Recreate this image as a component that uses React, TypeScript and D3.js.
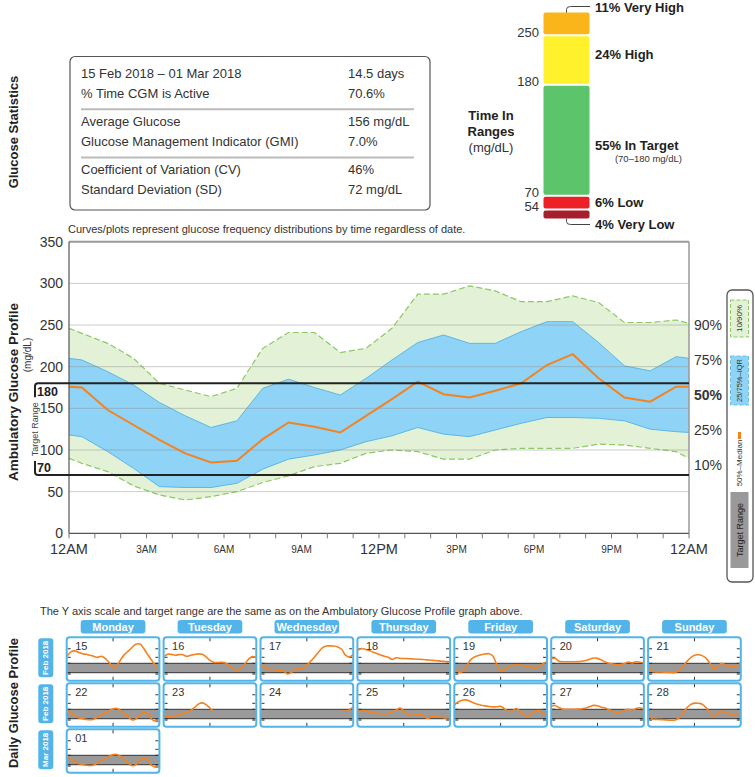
import React from 'react';
import * as d3 from 'd3';

const FONT = '"Liberation Sans", Arial, Helvetica, sans-serif';

// ---------- Glucose statistics ----------
const STAT_LABELS = [
  '15 Feb 2018 – 01 Mar 2018',
  '% Time CGM is Active',
  'Average Glucose',
  'Glucose Management Indicator (GMI)',
  'Coefficient of Variation (CV)',
  'Standard Deviation (SD)',
];
const STAT_VALUES = ['14.5 days', '70.6%', '156 mg/dL', '7.0%', '46%', '72 mg/dL'];

// ---------- Time in ranges ----------
const TIR_NAMES = ['Very High', 'High', 'In Target', 'Low', 'Very Low'];
const TIR_PCT = [11, 24, 55, 6, 4];
const TIR_COLORS = ['#f9b519', '#fff22d', '#5cc46b', '#ee2027', '#a51f2d'];
const TIR_BOUNDS = ['250', '180', '70', '54'];

// ---------- AGP percentiles ----------
const AGP_HOURS = [0, 0.5, 1.5, 2.5, 3.5, 4.5, 5.5, 6.5, 7.5, 8.5, 9.5, 10.5, 11.5, 12.5, 13.5, 14.5, 15.5, 16.5, 17.5, 18.5, 19.5, 20.5, 21.5, 22.5, 23.5, 24];
const P90 = [246, 240, 228, 210, 180, 172, 164, 174, 222, 241, 241, 217, 222, 246, 287, 287, 297, 291, 278, 278, 285, 277, 253, 253, 256, 252];
const P75 = [210, 208, 194, 178, 157, 141, 127, 135, 174, 185, 175, 166, 186, 208, 229, 238, 228, 228, 242, 254, 254, 229, 201, 195, 212, 210];
const P50 = [176, 175, 148, 130, 112, 96, 85, 87, 113, 133, 128, 121, 141, 161, 182, 167, 163, 171, 180, 202, 215, 186, 163, 158, 176, 176];
const P25 = [118, 116, 98, 78, 56, 55, 55, 60, 77, 89, 94, 100, 110, 117, 127, 119, 116, 124, 132, 139, 139, 138, 135, 125, 122, 121];
const P10 = [90, 84, 74, 57, 46, 40, 44, 50, 61, 69, 80, 84, 96, 100, 98, 89, 89, 100, 102, 102, 102, 107, 106, 102, 98, 90];
const Y_TICKS = [0, 50, 100, 150, 200, 250, 300, 350];
const GRID_VALUES = [50, 100, 150, 200, 250, 300];
const TARGET = [70, 180];
const TARGET_LABELS = ['180', '70'];
const X_LABELS = ['12AM', '3AM', '6AM', '9AM', '12PM', '3PM', '6PM', '9PM', '12AM'];
const PCT_LABELS = ['90%', '75%', '50%', '25%', '10%'];

// ---------- Daily profiles (hourly values, 0..24h) ----------
const WEEKDAYS = ['Monday', 'Tuesday', 'Wednesday', 'Thursday', 'Friday', 'Saturday', 'Sunday'];
const WEEK_MONTHS = ['Feb 2018', 'Feb 2018', 'Mar 2018'];
const N = null;
const D15 = [255, 310, 325, 310, 292, 285, 275, 262, 250, 262, 235, 190, 125, 155, 225, 285, 325, 370, 405, 405, 350, 280, 215, 150, 100];
const D16 = [250, 285, 285, 275, 282, 280, 262, 275, 283, 290, 285, 255, 215, 192, 190, 191, 185, 155, 115, 100, 125, 170, 230, 258, 250];
const D17 = [185, 130, 112, 107, 104, 100, 90, 55, 75, 105, 122, 125, 160, 205, 255, 310, 360, 382, 384, 382, 372, 345, 275, 255, 285];
const D18 = [330, 352, 345, 330, 312, 295, 278, 262, 250, 226, 244, 240, 237, 235, 232, 230, 227, 224, 220, 216, 212, 208, 204, 200, 198];
const D19 = [130, 80, 80, 130, 210, 250, 268, 280, 288, 292, 265, 165, 95, 105, 140, 158, 163, 160, 152, 143, 135, 125, 145, 175, 198];
const D20 = [235, 238, 205, 198, 198, 198, 198, 200, 204, 212, 228, 242, 238, 218, 195, 180, 172, 163, 166, 178, 195, 185, 198, 192, 185];
const D21 = [185, 88, 80, 78, 77, 75, 72, 72, 100, 140, 200, 245, 275, 280, 270, 240, 180, 115, 140, 180, 160, 140, 145, 155, 180];
const D22 = [170, 145, 110, 85, 70, 62, 58, 65, 90, 115, 140, 165, 185, 190, 165, 130, 90, 55, 70, 120, 145, 130, 65, 40, 35];
const D23 = [98, 95, 98, 105, 115, 128, 145, 165, 200, 240, 255, 235, 195, 150, N, N, N, N, N, N, N, N, N, N, N];
const D24 = [N, N, N, N, N, N, N, N, N, N, N, N, N, N, N, N, N, N, N, N, N, 160, 158, 172, 210];
const D25 = [165, 163, 160, 150, 140, 135, 128, 125, 130, 145, 170, 195, 160, 120, 108, 115, 125, 110, 75, 88, 100, 105, 85, 80, 82];
const D26 = [230, 265, 285, 290, 275, 255, 240, 228, 220, 212, 208, 210, 215, 185, 155, 160, 190, 160, 115, 100, 130, 160, 165, 130, 108];
const D27 = [218, 225, 200, 182, 180, 180, 180, 182, 187, 195, 212, 226, 222, 205, 195, 175, 158, 145, 150, 170, 180, 172, 190, 198, 182];
const D28 = [185, 68, 62, 60, 58, 55, 52, 55, 80, 130, 195, 235, 252, 250, 240, 200, 143, 100, 130, 162, 145, 128, 120, 128, 140];
const D01 = [168, 140, 108, 85, 72, 64, 60, 68, 92, 118, 142, 168, 188, 190, 168, 130, 88, 58, 75, 125, 150, 128, 62, 42, 40];
const DAY_LABELS = ['15', '16', '17', '18', '19', '20', '21', '22', '23', '24', '25', '26', '27', '28', '01'];
const DAY_SERIES = [D15, D16, D17, D18, D19, D20, D21, D22, D23, D24, D25, D26, D27, D28, D01];
const PANEL_TICKS = [54, 70, 180, 250, 350];

const TXT = '#333';

function rotatedText(x: number, y: number, text: string, props: any = {}) {
  return (
    <text
      transform={`translate(${x},${y}) rotate(-90)`}
      textAnchor="middle"
      dominantBaseline="central"
      {...props}
    >
      {text}
    </text>
  );
}

function Stats() {
  const rowY = (i: number) => 73.3 + Math.floor(i / 2) * 48.3 + (i % 2) * 20;
  return (
    <g>
      {rotatedText(13, 132, 'Glucose Statistics', { fontWeight: 'bold', fontSize: 13, fill: '#222' })}
      <rect x={70} y={56.5} width={360} height={153.5} rx={5} fill="#fff" stroke="#555" strokeWidth={1.2} />
      {STAT_LABELS.map((s, i) => (
        <g key={i}>
          <text x={81} y={rowY(i)} dominantBaseline="central" fontSize={13} fill={TXT}>{s}</text>
          <text x={348} y={rowY(i)} dominantBaseline="central" fontSize={13} fill={TXT}>{STAT_VALUES[i]}</text>
        </g>
      ))}
      {[0, 1].map((g) => (
        <line key={g} x1={81} x2={414} y1={rowY(g * 2) + 36} y2={rowY(g * 2) + 36} stroke="#bbb" strokeWidth={2} />
      ))}
    </g>
  );
}

function TimeInRanges() {
  const h = d3.scaleLinear().domain([0, 100]).range([0, 198]);
  const gap = 2;
  const barX = 543.5;
  const barW = 46;
  let cur = 12.5;
  const segs = TIR_PCT.map((p, i) => {
    const y0 = cur;
    const hh = h(p);
    cur += hh + gap;
    return { y0, y1: y0 + hh, p, i };
  });
  const labelX = 595;
  const midX = barX + 23;
  const vh = segs[0];
  const vl = segs[4];
  return (
    <g>
      <text x={491} y={115} textAnchor="middle" dominantBaseline="central" fontWeight="bold" fontSize={13} fill="#222">Time In</text>
      <text x={491} y={131} textAnchor="middle" dominantBaseline="central" fontWeight="bold" fontSize={13} fill="#222">Ranges</text>
      <text x={491} y={147} textAnchor="middle" dominantBaseline="central" fontSize={13} fill={TXT}>(mg/dL)</text>
      {segs.map((s) => (
        <rect key={s.i} x={barX} y={s.y0} width={barW} height={s.y1 - s.y0} rx={2} fill={TIR_COLORS[s.i]} />
      ))}
      {TIR_BOUNDS.map((b, i) => (
        <text key={b} x={539} y={segs[i].y1 - 2} textAnchor="end" dominantBaseline="central" fontSize={13} fill={TXT}>{b}</text>
      ))}
      <path d={`M${midX},${vh.y0} V${vh.y0 - 3} Q${midX},${vh.y0 - 6} ${midX + 4},${vh.y0 - 6} H${labelX - 5}`} fill="none" stroke="#444" strokeWidth={1} />
      <path d={`M${midX},${vl.y1} V${vl.y1 + 3} Q${midX},${vl.y1 + 6} ${midX + 4},${vl.y1 + 6} H${labelX - 5}`} fill="none" stroke="#444" strokeWidth={1} />
      <text x={labelX} y={7} dominantBaseline="central" fontWeight="bold" fontSize={13} fill="#222">{`${TIR_PCT[0]}% ${TIR_NAMES[0]}`}</text>
      <text x={labelX} y={(segs[1].y0 + segs[1].y1) / 2 - 6} dominantBaseline="central" fontWeight="bold" fontSize={13} fill="#222">{`${TIR_PCT[1]}% ${TIR_NAMES[1]}`}</text>
      <text x={labelX} y={(segs[2].y0 + segs[2].y1) / 2 + 5} dominantBaseline="central" fontWeight="bold" fontSize={13} fill="#222">{`${TIR_PCT[2]}% ${TIR_NAMES[2]}`}</text>
      <text x={682} y={(segs[2].y0 + segs[2].y1) / 2 + 18} textAnchor="end" dominantBaseline="central" fontSize={9.5} fill={TXT}>(70–180 mg/dL)</text>
      <text x={labelX} y={(segs[3].y0 + segs[3].y1) / 2} dominantBaseline="central" fontWeight="bold" fontSize={13} fill="#222">{`${TIR_PCT[3]}% ${TIR_NAMES[3]}`}</text>
      <text x={labelX} y={224} dominantBaseline="central" fontWeight="bold" fontSize={13} fill="#222">{`${TIR_PCT[4]}% ${TIR_NAMES[4]}`}</text>
    </g>
  );
}

function AGP() {
  const x = d3.scaleLinear().domain([0, 24]).range([69, 689]);
  const y = d3.scaleLinear().domain([0, 350]).range([533.3, 241.7]);
  const idx = AGP_HOURS.map((_, i) => i);
  const band = (lo: number[], hi: number[]) =>
    d3.area<number>().x((i) => x(AGP_HOURS[i])).y0((i) => y(lo[i])).y1((i) => y(hi[i]))(idx) || '';
  const line = (v: number[]) => d3.line<number>().x((i) => x(AGP_HOURS[i])).y((i) => y(v[i]))(idx) || '';
  const hourTicks = d3.range(0, 25);
  const yT = y(TARGET[1]);
  const yB = y(TARGET[0]);
  return (
    <g>
      {rotatedText(13, 392, 'Ambulatory Glucose Profile', { fontWeight: 'bold', fontSize: 13.5, fill: '#222' })}
      {rotatedText(27, 355, '(mg/dL)', { fontSize: 10, fill: TXT })}
      <text x={68} y={229} dominantBaseline="central" fontSize={11} fill={TXT}>
        Curves/plots represent glucose frequency distributions by time regardless of date.
      </text>
      <path d={band(P10, P90)} fill="#e3f2d6" />
      <path d={band(P25, P75)} fill="#8fd3f6" />
      <path d={line(P75)} fill="none" stroke="#5db7e4" strokeWidth={1} />
      <path d={line(P25)} fill="none" stroke="#5db7e4" strokeWidth={1} />
      <path d={line(P90)} fill="none" stroke="#8cc865" strokeWidth={1.2} strokeDasharray="6,3" />
      <path d={line(P10)} fill="none" stroke="#8cc865" strokeWidth={1.2} strokeDasharray="6,3" />
      {GRID_VALUES.map((v) => (
        <line key={v} x1={x(0)} x2={x(24)} y1={y(v)} y2={y(v)} stroke="rgba(140,140,140,0.45)" strokeWidth={1} />
      ))}
      <path d={line(P50)} fill="none" stroke="#f5821f" strokeWidth={2} />
      <line x1={x(0)} x2={x(24)} y1={y(350)} y2={y(350)} stroke="#999" strokeWidth={2} />
      <line x1={x(24)} x2={x(24)} y1={y(350)} y2={y(0)} stroke="#999" strokeWidth={1.5} />
      <line x1={x(0)} x2={x(0)} y1={y(350)} y2={y(0)} stroke="#555" strokeWidth={1.2} />
      <line x1={x(0)} x2={x(24)} y1={y(0)} y2={y(0)} stroke="#555" strokeWidth={1.2} />
      {hourTicks.map((h) => (
        <line key={h} x1={x(h)} x2={x(h)} y1={y(0)} y2={y(0) + 5} stroke="#777" strokeWidth={1} />
      ))}
      {Y_TICKS.map((v) => (
        <text key={v} x={63} y={y(v)} textAnchor="end" dominantBaseline="central" fontSize={14} fill={TXT}>{v}</text>
      ))}
      {X_LABELS.map((l, i) => {
        const major = i % 4 === 0;
        return (
          <text key={i} x={x(i * 3)} y={549} textAnchor="middle" dominantBaseline="central" fontSize={major ? 14.5 : 10} fill={TXT}>{l}</text>
        );
      })}
      {PCT_LABELS.map((l, i) => (
        <text key={l} x={694} y={325 + i * 35} dominantBaseline="central" fontSize={14} fontWeight={i === 2 ? 'bold' : 'normal'} fill={TXT}>{l}</text>
      ))}
      <path d={`M${x(24)},${yT} H38 Q35,${yT} 35,${yT + 3} V${yT + 14}`} fill="none" stroke="#222" strokeWidth={2} />
      <path d={`M${x(24)},${yB} H38 Q35,${yB} 35,${yB - 3} V${yB - 14}`} fill="none" stroke="#222" strokeWidth={2} />
      <text x={37} y={yT + 9} dominantBaseline="central" fontWeight="bold" fontSize={12.5} fill="#222">{TARGET_LABELS[0]}</text>
      <text x={37} y={yB - 7} dominantBaseline="central" fontWeight="bold" fontSize={12.5} fill="#222">{TARGET_LABELS[1]}</text>
      {rotatedText(35, (yT + yB) / 2, 'Target Range', { fontSize: 9, fill: '#444' })}
      <rect x={727} y={290} width={26} height={292} rx={5} fill="#fff" stroke="#555" strokeWidth={1.3} />
      <rect x={730.5} y={300} width={18} height={37} fill="#e3f2d6" stroke="#8cc865" strokeWidth={1} strokeDasharray="4,2" />
      {rotatedText(739.5, 318.5, '10/90%', { fontSize: 8, fill: TXT })}
      <rect x={730.5} y={356} width={18} height={49} fill="#8fd3f6" stroke="#6cc0e8" strokeWidth={1} strokeDasharray="4,2" />
      {rotatedText(739.5, 380.5, '25/75%–IQR', { fontSize: 7.5, fill: TXT })}
      <rect x={738} y={432} width={3} height={7} fill="#f5821f" />
      {rotatedText(739.5, 463, '50%–Median', { fontSize: 8, fill: TXT })}
      <rect x={730.5} y={492} width={18} height={76} fill="#999" />
      {rotatedText(739.5, 530, 'Target Range', { fontSize: 9, fill: '#222' })}
    </g>
  );
}

function Daily() {
  const colLeft = (c: number) => 66.7 + c * 96.9;
  const rowTop = (r: number) => 637.3 + r * 46;
  const pw = 92.7;
  const ph = 43.5;
  return (
    <g>
      {rotatedText(13, 703, 'Daily Glucose Profile', { fontWeight: 'bold', fontSize: 13, fill: '#222' })}
      <text x={40} y={611} dominantBaseline="central" fontSize={11} fill={TXT}>
        The Y axis scale and target range are the same as on the Ambulatory Glucose Profile graph above.
      </text>
      <defs>
        {DAY_SERIES.map((_, k) => {
          const c = k < 14 ? k % 7 : 0;
          const r = k < 14 ? Math.floor(k / 7) : 2;
          return (
            <clipPath key={k} id={`clip${k}`}>
              <rect x={colLeft(c)} y={rowTop(r)} width={pw} height={ph} />
            </clipPath>
          );
        })}
      </defs>
      {WEEKDAYS.map((d, c) => (
        <g key={d}>
          <rect x={colLeft(c) + 14} y={620} width={pw - 28} height={13.5} rx={3} fill="#52b4e8" />
          <text x={colLeft(c) + pw / 2} y={627} textAnchor="middle" dominantBaseline="central" fontWeight="bold" fontSize={11} fill="#fff">{d}</text>
        </g>
      ))}
      {WEEK_MONTHS.map((m, r) => (
        <g key={r}>
          <rect x={38.3} y={rowTop(r) + 1} width={15} height={39} rx={3} fill="#52b4e8" />
          {rotatedText(45.8, rowTop(r) + 20.5, m, { fontWeight: 'bold', fontSize: 8, fill: '#fff' })}
        </g>
      ))}
      {DAY_SERIES.map((series, k) => {
        const c = k < 14 ? k % 7 : 0;
        const r = k < 14 ? Math.floor(k / 7) : 2;
        const left = colLeft(c);
        const top = rowTop(r);
        const px = d3.scaleLinear().domain([0, 24]).range([left, left + pw]);
        const py = d3.scaleLinear().domain([0, 400]).range([top + 41.4, top + 7.2]);
        const pts = series.map((v, i) => [i, v] as [number, number | null]);
        const path = d3
          .line<[number, number | null]>()
          .defined((d) => d[1] != null)
          .x((d) => px(d[0]))
          .y((d) => py(d[1] as number))
          .curve(d3.curveCatmullRom.alpha(0.5))(pts) || '';
        return (
          <g key={k}>
            <rect x={left} y={top} width={pw} height={ph} fill="#fff" />
            <rect x={left} y={py(TARGET[1])} width={pw} height={py(TARGET[0]) - py(TARGET[1])} fill="#9a9a9a" />
            <line x1={left} x2={left + pw} y1={py(TARGET[1])} y2={py(TARGET[1])} stroke="#333" strokeWidth={1} />
            <line x1={left} x2={left + pw} y1={py(TARGET[0])} y2={py(TARGET[0])} stroke="#333" strokeWidth={1} />
            {PANEL_TICKS.map((t) => (
              <g key={t}>
                <line x1={left + 1} x2={left + 4} y1={py(t)} y2={py(t)} stroke="#333" strokeWidth={1} />
                <line x1={left + pw - 4} x2={left + pw - 1} y1={py(t)} y2={py(t)} stroke="#333" strokeWidth={1} />
              </g>
            ))}
            <line x1={px(12)} x2={px(12)} y1={top} y2={top + 4} stroke="#333" strokeWidth={1} />
            <line x1={px(12)} x2={px(12)} y1={top + ph - 4} y2={top + ph} stroke="#333" strokeWidth={1} />
            <path d={path} fill="none" stroke="#f5821f" strokeWidth={1.6} clipPath={`url(#clip${k})`} />
            <text x={left + 8.5} y={top + 9} dominantBaseline="central" fontSize={11} fill={TXT}>{DAY_LABELS[k]}</text>
            <rect x={left} y={top} width={pw} height={ph} rx={3} fill="none" stroke="#52b4e8" strokeWidth={2} />
          </g>
        );
      })}
    </g>
  );
}

export default function App() {
  return (
    <svg
      width={755}
      height={777}
      viewBox="0 0 755 777"
      style={{ position: 'absolute', left: 0, top: 0, background: '#fff' }}
      fontFamily={FONT}
    >
      <rect x={0} y={0} width={755} height={777} fill="#fff" />
      <Stats />
      <TimeInRanges />
      <AGP />
      <Daily />
    </svg>
  );
}
